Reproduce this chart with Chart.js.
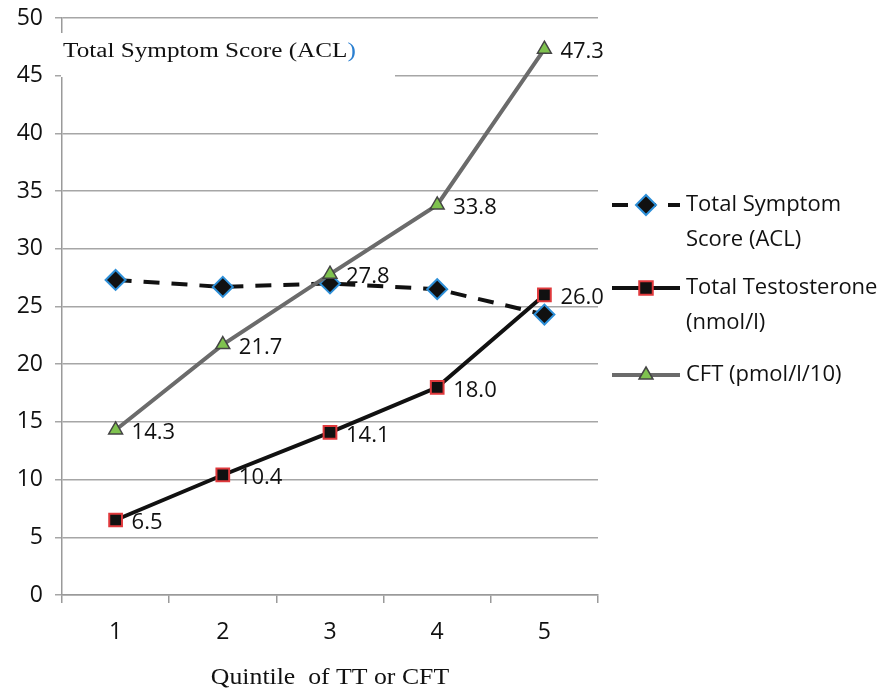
<!DOCTYPE html>
<html>
<head>
<meta charset="utf-8">
<style>
  html, body { margin: 0; padding: 0; background: #fff; }
  #wrap { width: 887px; height: 688px; position: relative; }
</style>
<script src="https://cdn.jsdelivr.net/npm/chart.js@4.4.0/dist/chart.umd.min.js"></script>
</head>
<body>
<div id="wrap"><canvas id="chart" width="887" height="688"></canvas></div>
<script>
// Data
const quintiles = ['1', '2', '3', '4', '5'];
const symptomScore = [27.3, 26.7, 27.0, 26.5, 24.3];
const totalTestosterone = [6.5, 10.4, 14.1, 18.0, 26.0];
const cftValues = [14.3, 21.7, 27.8, 33.8, 47.3];
const seriesNames = [
    ['Total Symptom', 'Score (ACL)'],
    ['Total Testosterone', '(nmol/l)'],
    ['CFT (pmol/l/10)']
];
const yTicks = [0, 5, 10, 15, 20, 25, 30, 35, 40, 45, 50];
const insetTitleText = 'Total Symptom Score (ACL';
const xTitleText = 'Quintile  of TT or CFT';

const sansFont = "'Open Sans', 'Noto Sans', sans-serif";
const serifFont = "'Liberation Serif', 'DejaVu Serif', serif";

// stretched serif text (the reference is widened horizontally)
function wideText(ctx, text, x, y, sx, align) {
    ctx.save();
    const w = ctx.measureText(text).width * sx;
    let left = x;
    if (align === 'center') left = x - w / 2;
    ctx.translate(left, y);
    ctx.scale(sx, 1);
    ctx.textAlign = 'left';
    ctx.fillText(text, 0, 0);
    ctx.restore();
    return w;
}

// Value labels next to points (only the two hormone series)
const valueLabels = {
    id: 'valueLabels',
    afterDatasetsDraw(chart) {
        const ctx = chart.ctx;
        ctx.save();
        ctx.font = '22px ' + sansFont;
        ctx.fillStyle = '#111';
        ctx.textAlign = 'left';
        ctx.textBaseline = 'middle';
        chart.data.datasets.forEach((ds, i) => {
            if (!ds.showValues) return;
            chart.getDatasetMeta(i).data.forEach((pt, j) => {
                ctx.fillText(ds.data[j].toFixed(1), pt.x + 16, pt.y + 3);
            });
        });
        ctx.restore();
    }
};

// Inset title box that hides part of the grid, plus x axis title
const insetTitle = {
    id: 'insetTitle',
    beforeDatasetsDraw(chart) {
        const ctx = chart.ctx;
        const left = chart.chartArea.left;
        ctx.save();
        ctx.fillStyle = '#fff';
        ctx.fillRect(left - 1, 33, 396 - left, 44);
        ctx.font = '20px ' + serifFont;
        ctx.textBaseline = 'alphabetic';
        ctx.fillStyle = '#111';
        const w = wideText(ctx, insetTitleText, 63, 57, 1.26, 'left');
        ctx.fillStyle = '#2a7fd0';
        wideText(ctx, ')', 63 + w, 57, 1.26, 'left');

        // x axis title
        const xs = chart.scales.x;
        ctx.fillStyle = '#111';
        ctx.font = '23px ' + serifFont;
        wideText(ctx, xTitleText, (xs.left + xs.right) / 2, 684, 1.12, 'center');
        ctx.restore();
    }
};

// Legend drawn at right, two-line labels
const sideLegend = {
    id: 'sideLegend',
    afterDraw(chart) {
        const ctx = chart.ctx;
        const rows = [205, 288, 375];
        ctx.save();
        chart.data.datasets.forEach((ds, i) => {
            const y = rows[i];
            ctx.strokeStyle = ds.borderColor;
            ctx.lineWidth = 4;
            ctx.setLineDash(ds.borderDash || []);
            ctx.beginPath();
            ctx.moveTo(612, y);
            ctx.lineTo(680, y);
            ctx.stroke();
            ctx.setLineDash([]);
            drawMarker(ctx, ds, 646, y);
            ctx.font = '22px ' + sansFont;
            ctx.fillStyle = '#111';
            ctx.textBaseline = 'middle';
            ctx.textAlign = 'left';
            seriesNames[i].forEach((line, k) => {
                ctx.fillText(line, 686, y + k * 35);
            });
        });
        ctx.restore();
    }
};

function drawMarker(ctx, ds, x, y) {
    const r = ds.pointRadius;
    ctx.fillStyle = ds.pointBackgroundColor;
    ctx.strokeStyle = ds.pointBorderColor;
    ctx.lineWidth = ds.pointBorderWidth;
    ctx.beginPath();
    if (ds.pointStyle === 'rectRot') {
        ctx.moveTo(x, y - r); ctx.lineTo(x + r, y); ctx.lineTo(x, y + r); ctx.lineTo(x - r, y);
    } else if (ds.pointStyle === 'rect') {
        const h = r * 0.75;
        ctx.rect(x - h, y - h, 2 * h, 2 * h);
    } else {
        ctx.moveTo(x, y - r); ctx.lineTo(x + r * 0.87, y + r * 0.5); ctx.lineTo(x - r * 0.87, y + r * 0.5);
    }
    ctx.closePath();
    ctx.fill();
    ctx.stroke();
}

new Chart(document.getElementById('chart'), {
    type: 'line',
    data: {
        labels: quintiles,
        datasets: [
            {
                label: 'Total Symptom Score (ACL)',
                data: symptomScore,
                borderColor: '#111',
                borderWidth: 4,
                borderDash: [16, 12],
                pointStyle: 'rectRot',
                pointRadius: 10,
                pointBackgroundColor: '#111',
                pointBorderColor: '#2d8fd8',
                pointBorderWidth: 2,
                tension: 0,
                order: 3,
                showValues: false
            },
            {
                label: 'Total Testosterone (nmol/l)',
                data: totalTestosterone,
                borderColor: '#111',
                borderWidth: 4,
                pointStyle: 'rect',
                pointRadius: 9,
                pointBackgroundColor: '#111',
                pointBorderColor: '#e0393c',
                pointBorderWidth: 2,
                tension: 0,
                order: 2,
                showValues: true
            },
            {
                label: 'CFT (pmol/l/10)',
                data: cftValues,
                borderColor: '#6b6b6b',
                borderWidth: 4,
                pointStyle: 'triangle',
                pointRadius: 8,
                pointBackgroundColor: '#7fc24f',
                pointBorderColor: '#444',
                pointBorderWidth: 1.5,
                tension: 0,
                order: 1,
                showValues: true
            }
        ]
    },
    options: {
        responsive: false,
        animation: false,
        layout: { padding: { top: 18, right: 289, left: 0, bottom: 0 } },
        plugins: {
            legend: { display: false },
            tooltip: { enabled: false }
        },
        scales: {
            x: {
                offset: true,
                grid: {
                    offset: true,
                    drawOnChartArea: false,
                    drawTicks: true,
                    tickLength: 8,
                    color: '#9a9a9a',
                    lineWidth: 1.5
                },
                border: { color: '#9a9a9a', width: 1.5 },
                ticks: {
                    color: '#111',
                    font: { family: sansFont, size: 23 },
                    padding: 16
                },
                afterFit(scale) { scale.height = 93; }
            },
            y: {
                min: 0,
                max: 50,
                afterBuildTicks(scale) { scale.ticks = yTicks.map(v => ({ value: v })); },
                grid: {
                    color: '#a6a6a6',
                    lineWidth: 1.5,
                    tickLength: 7
                },
                border: { color: '#9a9a9a', width: 1.5 },
                ticks: {
                    color: '#111',
                    font: { family: sansFont, size: 23 },
                    padding: 12
                },
                afterFit(scale) {
                    scale.width = 62;
                    scale.paddingTop = 0;
                    scale.paddingBottom = 0;
                }
            }
        }
    },
    plugins: [insetTitle, valueLabels, sideLegend]
});
</script>
</body>
</html>
